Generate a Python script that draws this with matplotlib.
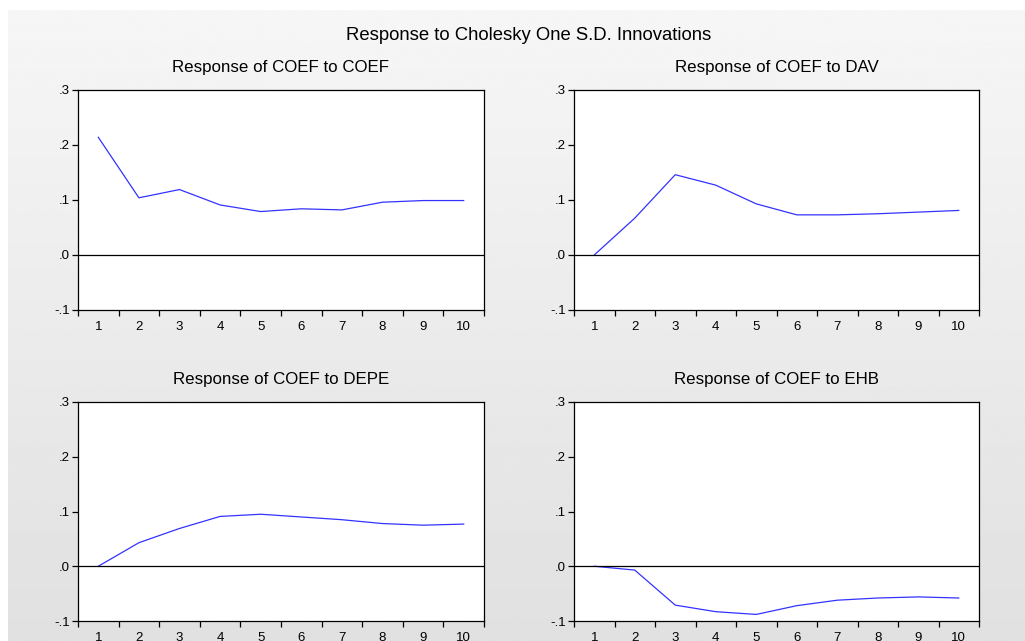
import numpy as np
import matplotlib.pyplot as plt

plt.rcParams['font.family'] = ['Liberation Sans', 'DejaVu Sans']

# impulse responses
periods = [1, 2, 3, 4, 5, 6, 7, 8, 9, 10]
resp_coef = [0.214, 0.104, 0.119, 0.091, 0.079, 0.084, 0.082, 0.096, 0.099, 0.099]
resp_dav = [0.0, 0.067, 0.146, 0.127, 0.093, 0.073, 0.073, 0.075, 0.078, 0.081]
resp_depe = [0.0, 0.043, 0.069, 0.091, 0.095, 0.090, 0.085, 0.078, 0.075, 0.077]
resp_ehb = [0.0, -0.007, -0.071, -0.083, -0.088, -0.072, -0.062, -0.058, -0.056, -0.058]

titles = ["Response of COEF to COEF", "Response of COEF to DAV",
          "Response of COEF to DEPE", "Response of COEF to EHB"]
series = [resp_coef, resp_dav, resp_depe, resp_ehb]
yticks = [-0.1, 0.0, 0.1, 0.2, 0.3]
ylabels = ["-.1", ".0", ".1", ".2", ".3"]

W, H = 1025, 641
fig = plt.figure(figsize=(W / 100, H / 100), dpi=100)

# gray gradient background
bg = fig.add_axes([8 / W, 0, 1 - 8 / W, 1 - 10 / H], zorder=-5)
grad = np.linspace(0.965, 0.88, 256).reshape(-1, 1)
bg.imshow(np.repeat(grad, 2, axis=1), cmap='gray', vmin=0, vmax=1,
          aspect='auto', extent=[0, 1, 0, 1])
bg.axis('off')

# panel boxes in pixels: left, top, right, bottom
boxes = [(78, 90, 484, 310), (574, 90, 979, 310),
         (78, 402, 484, 621), (574, 402, 979, 621)]

for (l, t, r, b), vals, title in zip(boxes, series, titles):
    ax = fig.add_axes([l / W, 1 - b / H, (r - l) / W, (b - t) / H])
    ax.plot(periods, vals, color='#3333ff', lw=0.9)
    ax.axhline(0, color='black', lw=0.9)
    ax.set_xlim(0.5, 10.5)
    ax.set_ylim(-0.1, 0.3)
    ax.set_yticks(yticks)
    ax.set_yticklabels(ylabels, fontsize=9.5)
    ax.set_xticks(np.arange(0.5, 11, 1))
    ax.set_xticklabels([])
    ax.set_xticks(periods, minor=True)
    ax.set_xticklabels([str(p) for p in periods], minor=True, fontsize=9.5)
    ax.tick_params(axis='x', which='major', direction='out', length=4, width=0.9)
    ax.tick_params(axis='x', which='minor', length=0, pad=8)
    ax.tick_params(axis='y', direction='out', length=4, width=0.9, pad=2)
    for s in ax.spines.values():
        s.set_linewidth(0.9)
    ax.set_title(title, fontsize=12.2, pad=13)

fig.text(529 / W, 1 - 35 / H, "Response to Cholesky One S.D. Innovations",
         ha='center', va='center', fontsize=13.3)

fig.savefig("out.png", dpi=100, facecolor='white')
